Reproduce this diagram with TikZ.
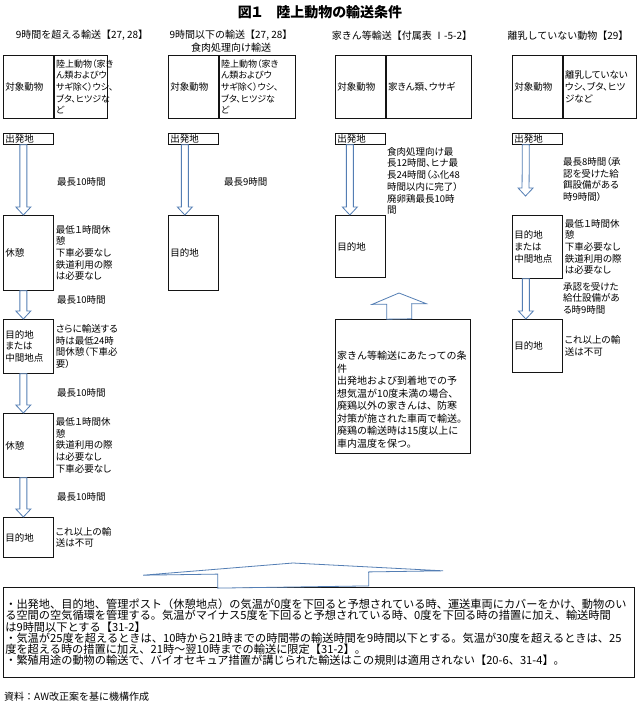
\documentclass[tikz,border=0pt]{standalone}
\usepackage{fontspec}
\setmainfont{Noto Sans CJK JP}[RawFeature=+palt]
\newfontfamily\fullfam{Noto Sans CJK JP}
\usetikzlibrary{calc}
\definecolor{arrowblue}{RGB}{84,126,180}
\definecolor{boxline}{RGB}{20,20,20}
\newcommand{\colfont}{\fontsize{9.5}{11.7}\selectfont\lineskiplimit=-10pt}
\newcommand{\cellfont}{\fontsize{9}{11.7}\selectfont\lineskiplimit=-10pt}
\newcommand{\hdrfont}{\fullfam\fontsize{10}{12.5}\selectfont}
\newcommand{\condfont}{\fullfam\fontsize{10}{12.5}\selectfont\lineskiplimit=-10pt}
\newcommand{\rulefont}{\fullfam\fontsize{11.2}{11.3}\selectfont\lineskiplimit=-10pt}
\newcommand{\ttlfont}{\fontsize{14}{16}\selectfont\bfseries}
\newcommand{\blockarrow}[5]{%
	\coordinate (ba-h) at ($(#2)!#5!(#1)$);
	\draw[blockarr] ($(#1)!#3!90:(#2)$) -- ($(ba-h)!#3!-90:(#1)$) -- ($(ba-h)!#4!-90:(#1)$) -- (#2)
		-- ($(ba-h)!#4!90:(#1)$) -- ($(ba-h)!#3!90:(#1)$) -- ($(#1)!#3!-90:(#2)$) -- cycle;}

\begin{document}
\begin{tikzpicture}[x=1pt, y=-1pt, every node/.style={font=\colfont},
	lbox/.style={draw=boxline, line width=0.7pt, inner sep=2pt, align=left, anchor=north west},
	note/.style={inner sep=1pt, align=left, anchor=west},
	hdr/.style={font=\hdrfont, inner sep=0pt, align=center},
	blockarr/.style={draw=arrowblue, fill=white, line width=0.8pt, line join=miter}]
	\fill[white] (0,0) rectangle (640,710);
	\node[font=\ttlfont] (title) at (320,12) {図１　陸上動物の輸送条件};
	\node[hdr] (head1) at (82,35) {9時間を超える輸送【27, 28】};
	\node[hdr] (head2) at (231,41) {9時間以下の輸送【27, 28】\\食肉処理向け輸送};
	\node[hdr] (head3) at (402,36) {家きん等輸送【付属表 Ⅰ-5-2】};
	\node[hdr] (head4) at (568,36) {離乳していない動物【29】};

	% target animals
	\node[lbox, text width=46pt, minimum height=63pt] (kind1) at (3,55) {対象動物};
	\node[lbox, font=\cellfont, text width=49pt, minimum height=63pt] (anim1) at (kind1.north east) {陸上動物（家き\\ん類およびウ\\サギ除く）ウシ、\\ブタ、ヒツジな\\ど};
	\node[lbox, text width=46pt, minimum height=63pt] (kind2) at (168,55) {対象動物};
	\node[lbox, font=\cellfont, text width=72pt, minimum height=63pt] (anim2) at (kind2.north east) {陸上動物（家き\\ん類およびウ\\サギ除く）ウシ、\\ブタ、ヒツジな\\ど};
	\node[lbox, text width=46pt, minimum height=63pt] (kind3) at (335,55) {対象動物};
	\node[lbox, text width=81pt, minimum height=63pt] (anim3) at (kind3.north east) {家きん類、ウサギ};
	\node[lbox, text width=46pt, minimum height=63pt] (kind4) at (512,55) {対象動物};
	\node[lbox, text width=69pt, minimum height=63pt] (anim4) at (kind4.north east) {離乳していない\\ウシ、ブタ、ヒツ\\ジなど};

	% departures
	\foreach \col/\x in {1/3, 2/168, 3/335, 4/512}
		\node[lbox, text width=46pt, minimum height=11pt, inner ysep=0.5pt] (dep\col) at (\x,133) {出発地};

	% column 1
	\node[lbox, text width=46pt, minimum height=75pt] (rest1) at (3,215) {休憩};
	\node[lbox, text width=46pt, minimum height=54pt] (mid1) at (3,319) {目的地\\または\\中間地点};
	\node[lbox, text width=46pt, minimum height=64pt] (rest2) at (3,413) {休憩};
	\node[lbox, text width=46pt, minimum height=40pt] (dest1) at (3,517) {目的地};
	\node[note] (rest1n) at ([xshift=1pt]rest1.east) {最低１時間休\\憩\\下車必要なし\\鉄道利用の際\\は必要なし};
	\node[note] (mid1n) at ([xshift=1pt]mid1.east) {さらに輸送する\\時は最低24時\\間休憩（下車必\\要）};
	\node[note] (rest2n) at ([xshift=1pt]rest2.east) {最低１時間休\\憩\\鉄道利用の際\\は必要なし\\下車必要なし};
	\node[note] (dest1n) at ([xshift=1pt]dest1.east) {これ以上の輸\\送は不可};
	\node[note] (time1a) at (56,182) {最長10時間};
	\node[note] (time1b) at (56,300) {最長10時間};
	\node[note] (time1c) at (56,393) {最長10時間};
	\node[note] (time1d) at (56,497) {最長10時間};
	\blockarrow{[xshift=-5pt]dep1.south}{[xshift=-5pt]rest1.north}{3.5pt}{7.5pt}{8pt}
	\blockarrow{[xshift=-5pt]rest1.south}{[xshift=-5pt]mid1.north}{3.5pt}{7.5pt}{8pt}
	\blockarrow{[xshift=-5pt]mid1.south}{[xshift=-5pt]rest2.north}{3.5pt}{7.5pt}{8pt}
	\blockarrow{[xshift=-5pt]rest2.south}{[xshift=-5pt]dest1.north}{3.5pt}{7.5pt}{8pt}

	% column 2
	\node[lbox, text width=46pt, minimum height=75pt] (dest2) at (168,215) {目的地};
	\node[note] (time2) at (223,182) {最長9時間};
	\blockarrow{[xshift=-8.5pt]dep2.south}{[xshift=-8.5pt]dest2.north}{3.5pt}{7.5pt}{8pt}

	% column 3
	\node[lbox, text width=46pt, minimum height=62pt] (dest3) at (335,215) {目的地};
	\node[note, anchor=north west] (dep3n) at (386,146) {食肉処理向け最\\長12時間、ヒナ最\\長24時間（ふ化48\\時間以内に完了）\\廃卵鶏最長10時\\間};
	\node[lbox, minimum width=135pt, minimum height=134pt] (cond3) at (335,319) {};
	\node[note, font=\condfont, anchor=north west] (cond3t) at (336,350) {家きん等輸送にあたっての条\\件\\出発地および到着地での予\\想気温が10度未満の場合、\\廃鶏以外の家きんは、防寒\\対策が施された車両で輸送。\\廃鶏の輸送時は15度以上に\\車内温度を保つ。};
	\coordinate (uptip) at (399,293);
	\blockarrow{[xshift=-10.5pt]dep3.south}{[xshift=-10.5pt]dest3.north}{3.5pt}{7.5pt}{8pt}
	\blockarrow{[xshift=-3.5pt]cond3.north}{uptip}{12.5pt}{27pt}{11pt}

	% column 4
	\node[lbox, text width=46pt, minimum height=63pt] (mid4) at (512,215) {目的地\\または\\中間地点};
	\node[lbox, text width=46pt, minimum height=53pt] (dest4) at (512,319) {目的地};
	\node[note, anchor=north west] (dep4n) at (562,156) {最長8時間（承\\認を受けた給\\餌設備がある\\時9時間）};
	\node[note] (mid4n) at ([xshift=1pt]mid4.east) {最低１時間休\\憩\\下車必要なし\\鉄道利用の際\\は必要なし};
	\node[note, anchor=north west] (mid4m) at (562,281) {承認を受けた\\給仕設備があ\\る時9時間};
	\node[note] (dest4n) at ([xshift=1pt]dest4.east) {これ以上の輸\\送は不可};
	\coordinate (dep4tip) at (525.5,196);
	\blockarrow{[xshift=-11.5pt]dep4.south}{dep4tip}{3.5pt}{7.5pt}{8pt}
	\blockarrow{[xshift=-11.5pt]mid4.south}{[xshift=-11.5pt]dest4.north}{3.5pt}{7.5pt}{8pt}

	% common rules
	\node[lbox, font=\rulefont, text width=627pt, minimum height=90pt] (rules) at (3,587) {・出発地、目的地、管理ポスト（休憩地点）の気温が0度を下回ると予想されている時、運送車両にカバーをかけ、動物のい\\る空間の空気循環を管理する。気温がマイナス5度を下回ると予想されている時、0度を下回る時の措置に加え、輸送時間\\は9時間以下とする【31-2】\\・気温が25度を超えるときは、10時から21時までの時間帯の輸送時間を9時間以下とする。気温が30度を超えるときは、25\\度を超える時の措置に加え、21時～翌10時までの輸送に限定【31-2】。\\・繁殖用途の動物の輸送で、バイオセキュア措置が講じられた輸送はこの規則は適用されない【20-6、31-4】。};
	\coordinate (bigtip) at (293,563);
	\blockarrow{[xshift=-25.5pt]rules.north}{bigtip}{75.5pt}{150pt}{10pt}
	\node[note, font=\hdrfont] (source) at (3,697) {資料：AW改正案を基に機構作成};
\end{tikzpicture}
\end{document}
